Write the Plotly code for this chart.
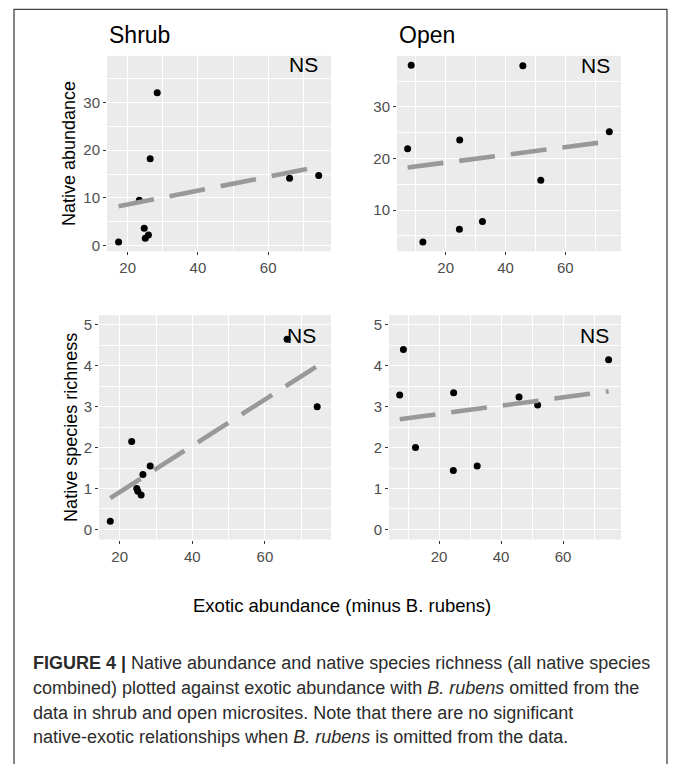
import numpy as np
import plotly.graph_objects as go

# ---------------- data ----------------
shrub_exotic = [17.4, 23.3, 24.7, 25.0, 25.9, 26.4, 28.4, 66.1, 74.4]
shrub_native_abund = [0.7, 9.5, 3.6, 1.5, 2.2, 18.2, 32.1, 14.1, 14.7]
shrub_native_rich = [0.2, 2.15, 1.0, 0.93, 0.84, 1.34, 1.55, 4.65, 3.0]

open_exotic = [7.3, 8.5, 12.4, 24.6, 24.7, 32.3, 45.8, 51.8, 74.7]
open_native_abund = [21.9, 38.1, 3.8, 6.3, 23.6, 7.8, 38.0, 15.8, 25.2]
open_native_rich = [3.29, 4.4, 2.0, 1.44, 3.34, 1.55, 3.24, 3.04, 4.15]

panel_titles = ["Shrub", "Open"]
y_titles = ["Native abundance", "Native species richness"]
x_title = "Exotic abundance (minus B. rubens)"
sig_label = "NS"
caption_lines = [
    "<b>FIGURE 4 |</b> Native abundance and native species richness (all native species",
    "combined) plotted against exotic abundance with <i>B. rubens</i> omitted from the",
    "data in shrub and open microsites. Note that there are no significant",
    "native-exotic relationships when <i>B. rubens</i> is omitted from the data.",
]

W, H = 676, 764


def fx(px):
    return px / W


def fy(py):
    return 1 - py / H


FONT = "Liberation Sans, Arial, sans-serif"
TICKFONT = dict(family=FONT, size=15, color="#4D4D4D")

fig = go.Figure()

panels = [
    # (x data, y data, axis suffix, x px domain, y px domain, xrange, yrange, dtick_y)
    (shrub_exotic, shrub_native_abund, "", (107, 331), (56, 252), [14.1, 77.9], [-1.26, 39.85], 10),
    (open_exotic, open_native_abund, "2", (397, 621), (56, 252), [3.75, 78.6], [2.0, 39.9], 10),
    (shrub_exotic, shrub_native_rich, "3", (99, 331), (316, 541), [14.3, 78.2], [-0.25, 5.24], 1),
    (open_exotic, open_native_rich, "4", (389, 621), (316, 541), [3.85, 78.7], [-0.25, 5.24], 1),
]

layout_axes = {}
for xd, yd, sfx, (xl, xr), (yt, yb), xr_, yr_, dty in panels:
    xa = "x" + sfx
    ya = "y" + sfx
    fig.add_trace(go.Scatter(
        x=xd, y=yd, mode="markers", xaxis=xa, yaxis=ya,
        marker=dict(color="black", size=7), showlegend=False, hoverinfo="skip"))
    slope, intercept = np.polyfit(xd, yd, 1)
    lx = [min(xd), max(xd)]
    ly = [intercept + slope * v for v in lx]
    fig.add_trace(go.Scatter(
        x=lx, y=ly, mode="lines", xaxis=xa, yaxis=ya,
        line=dict(color="#999999", width=4.6, dash="36px,16px"),
        showlegend=False, hoverinfo="skip"))

    common = dict(
        showgrid=True, gridcolor="white", gridwidth=1.1,
        zeroline=False, showline=False,
        ticks="outside", ticklen=3, tickwidth=1, tickcolor="#333333",
        tickfont=TICKFONT, fixedrange=True,
    )
    layout_axes["xaxis" + sfx] = dict(
        domain=[fx(xl), fx(xr)], anchor=ya, range=xr_,
        tick0=0, dtick=20,
        minor=dict(tick0=0, dtick=10, showgrid=True, gridcolor="white", gridwidth=0.55, ticks=""),
        **common)
    layout_axes["yaxis" + sfx] = dict(
        domain=[fy(yb), fy(yt)], anchor=xa, range=yr_,
        tick0=0, dtick=dty,
        minor=dict(tick0=0, dtick=dty / 2, showgrid=True, gridcolor="white", gridwidth=0.55, ticks=""),
        **common)

annotations = []
# panel titles
annotations.append(dict(text=panel_titles[0], x=fx(107), y=fy(35), xref="paper", yref="paper",
                        xanchor="left", yanchor="middle", showarrow=False,
                        font=dict(family=FONT, size=23, color="black")))
annotations.append(dict(text=panel_titles[1], x=fx(397), y=fy(35), xref="paper", yref="paper",
                        xanchor="left", yanchor="middle", showarrow=False,
                        font=dict(family=FONT, size=23, color="black")))
# NS labels
for sfx, yv in [("", 38), ("2", 38), ("3", 4.75), ("4", 4.75)]:
    annotations.append(dict(text=sig_label, x=70, y=yv, xref="x" + sfx, yref="y" + sfx,
                            xanchor="center", yanchor="middle", showarrow=False,
                            font=dict(family=FONT, size=21, color="black")))
# y titles
annotations.append(dict(text=y_titles[0], x=fx(68.5), y=fy(154), xref="paper", yref="paper",
                        textangle=-90, xanchor="center", yanchor="middle", showarrow=False,
                        font=dict(family=FONT, size=18, color="black")))
annotations.append(dict(text=y_titles[1], x=fx(71.5), y=fy(428.5), xref="paper", yref="paper",
                        textangle=-90, xanchor="center", yanchor="middle", showarrow=False,
                        font=dict(family=FONT, size=18, color="black")))
# x title
annotations.append(dict(text=x_title, x=fx(342), y=fy(607), xref="paper", yref="paper",
                        xanchor="center", yanchor="middle", showarrow=False,
                        font=dict(family=FONT, size=18.5, color="black")))
# caption
cap_y = [665, 690, 714.5, 739]
for line, yy in zip(caption_lines, cap_y):
    annotations.append(dict(text=line, x=fx(31), y=fy(yy), xref="paper", yref="paper",
                            xanchor="left", yanchor="middle", showarrow=False,
                            font=dict(family=FONT, size=18, color="#2b2b2b")))

shapes = [dict(type="rect", xref="paper", yref="paper",
               x0=fx(14), x1=fx(667), y0=-0.05, y1=fy(9.3),
               line=dict(color="#444444", width=1.3), fillcolor="rgba(0,0,0,0)", layer="below")]

fig.update_layout(
    width=W, height=H, margin=dict(l=0, r=0, t=0, b=0),
    paper_bgcolor="white", plot_bgcolor="#EBEBEB",
    annotations=annotations, shapes=shapes, showlegend=False,
    **layout_axes,
)

fig.write_html("out.html")
